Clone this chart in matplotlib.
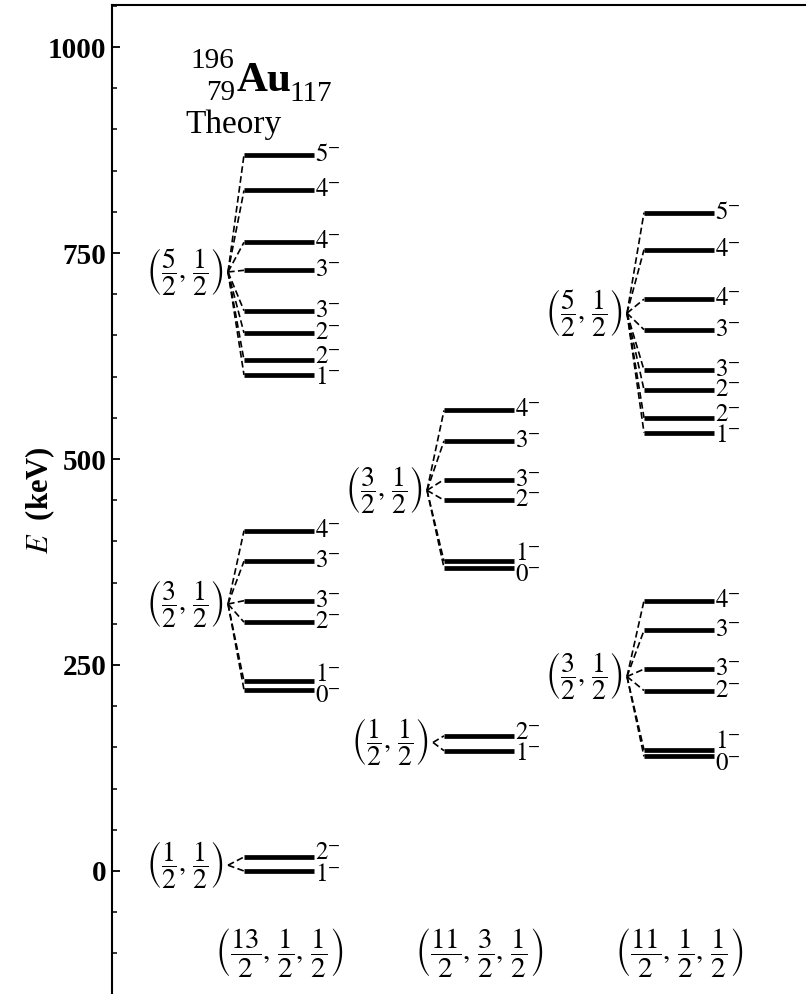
import numpy as np
import matplotlib.pyplot as plt
from matplotlib.ticker import MultipleLocator

plt.rcParams['mathtext.fontset'] = 'stix'
plt.rcParams['font.family'] = ['Liberation Serif', 'DejaVu Serif']

# 能级数据 (keV), 每个带: 带头能量, 各能级能量, 自旋
# (13/2,1/2,1/2) 组态
c1_52_head = 727
c1_52_E = [869, 826, 763, 729, 680, 653, 620, 602]
c1_52_J = [5, 4, 4, 3, 3, 2, 2, 1]
c1_32_head = 324
c1_32_E = [413, 376, 328, 302, 230, 220]
c1_32_J = [4, 3, 3, 2, 1, 0]
c1_12_head = 7
c1_12_E = [17, 0]
c1_12_J = [2, 1]
# (11/2,3/2,1/2) 组态
c2_32_head = 462
c2_32_E = [559, 522, 475, 450, 376, 368]
c2_32_J = [4, 3, 3, 2, 1, 0]
c2_12_head = 156
c2_12_E = [164, 146]
c2_12_J = [2, 1]
# (11/2,1/2,1/2) 组态
c3_52_head = 677
c3_52_E = [799, 754, 694, 657, 608, 584, 550, 532]
c3_52_J = [5, 4, 4, 3, 3, 2, 2, 1]
c3_32_head = 236
c3_32_E = [328, 292, 245, 219, 147, 139]
c3_32_J = [4, 3, 3, 2, 1, 0]

config_labels = [r'$\left(\dfrac{13}{2},\,\dfrac{1}{2},\,\dfrac{1}{2}\right)$',
                 r'$\left(\dfrac{11}{2},\,\dfrac{3}{2},\,\dfrac{1}{2}\right)$',
                 r'$\left(\dfrac{11}{2},\,\dfrac{1}{2},\,\dfrac{1}{2}\right)$']
band_52 = r'$\left(\dfrac{5}{2},\,\dfrac{1}{2}\right)$'
band_32 = r'$\left(\dfrac{3}{2},\,\dfrac{1}{2}\right)$'
band_12 = r'$\left(\dfrac{1}{2},\,\dfrac{1}{2}\right)$'

# 布局 (横坐标按像素)
col_left = [244, 444, 644]
bar_w = 70

fig = plt.figure(figsize=(8.06, 9.94), dpi=100)
ax = fig.add_axes([112/806, 0, 1 - 112/806, 989/994])
ax.set_xlim(112, 806)
ax.set_ylim(-149.3, 1051)


def label_pos(E):
    # 相距太近的标签分开
    pos = list(E)
    for i in range(len(pos) - 1):
        if abs(pos[i] - pos[i+1]) < 20:
            m = (pos[i] + pos[i+1]) / 2
            pos[i] = m + 13
            pos[i+1] = m - 13
    return pos


def drawBand(col, x0, head, E, J, name):
    xl = col_left[col]
    for e, lp, j in zip(E, label_pos(E), J):
        ax.plot([x0, xl], [head, e], color='k', lw=1.2, ls=(0, (4, 2)))
        ax.plot([xl, xl + bar_w], [e, e], color='k', lw=3.4, solid_capstyle='butt')
        ax.text(xl + bar_w + 1, lp, r'$%d^{-}$' % j, fontsize=18, ha='left', va='center')
    ax.text(x0 - 4, head, name, fontsize=20, ha='right', va='center')


drawBand(0, 228, c1_52_head, c1_52_E, c1_52_J, band_52)
drawBand(0, 228, c1_32_head, c1_32_E, c1_32_J, band_32)
drawBand(0, 228, c1_12_head, c1_12_E, c1_12_J, band_12)
drawBand(1, 427, c2_32_head, c2_32_E, c2_32_J, band_32)
drawBand(1, 433, c2_12_head, c2_12_E, c2_12_J, band_12)
drawBand(2, 627, c3_52_head, c3_52_E, c3_52_J, band_52)
drawBand(2, 627, c3_32_head, c3_32_E, c3_32_J, band_32)

for i in range(3):
    ax.text(col_left[i] + bar_w / 2, -100, config_labels[i], fontsize=21, ha='center', va='center')

# 核素标题
ax.text(190, 974, '196', fontsize=21, ha='left', va='baseline')
ax.text(235, 936, '79', fontsize=21, ha='right', va='baseline')
ax.text(237, 947, 'Au', fontsize=31, fontweight='bold', ha='left', va='baseline')
ax.text(289, 934, '117', fontsize=21, ha='left', va='baseline')
ax.text(185, 896, 'Theory', fontsize=24, ha='left', va='baseline')

# 坐标轴
ax.spines['right'].set_visible(False)
ax.spines['bottom'].set_visible(False)
ax.spines['left'].set_linewidth(1.5)
ax.spines['top'].set_linewidth(1.5)
ax.set_xticks([])
ax.set_yticks([0, 250, 500, 750, 1000])
ax.yaxis.set_minor_locator(MultipleLocator(50))
ax.tick_params(axis='y', which='major', direction='in', length=6, width=1.3, labelsize=21, pad=4)
ax.tick_params(axis='y', which='minor', direction='in', length=3.5, width=1.1)
plt.setp(ax.get_yticklabels(), fontweight='bold')

fig.text(40/806, 1 - 500/994, r'$E$  (keV)', rotation=90, fontsize=22, fontweight='bold',
         ha='center', va='center')

plt.savefig('out.png', dpi=100)
